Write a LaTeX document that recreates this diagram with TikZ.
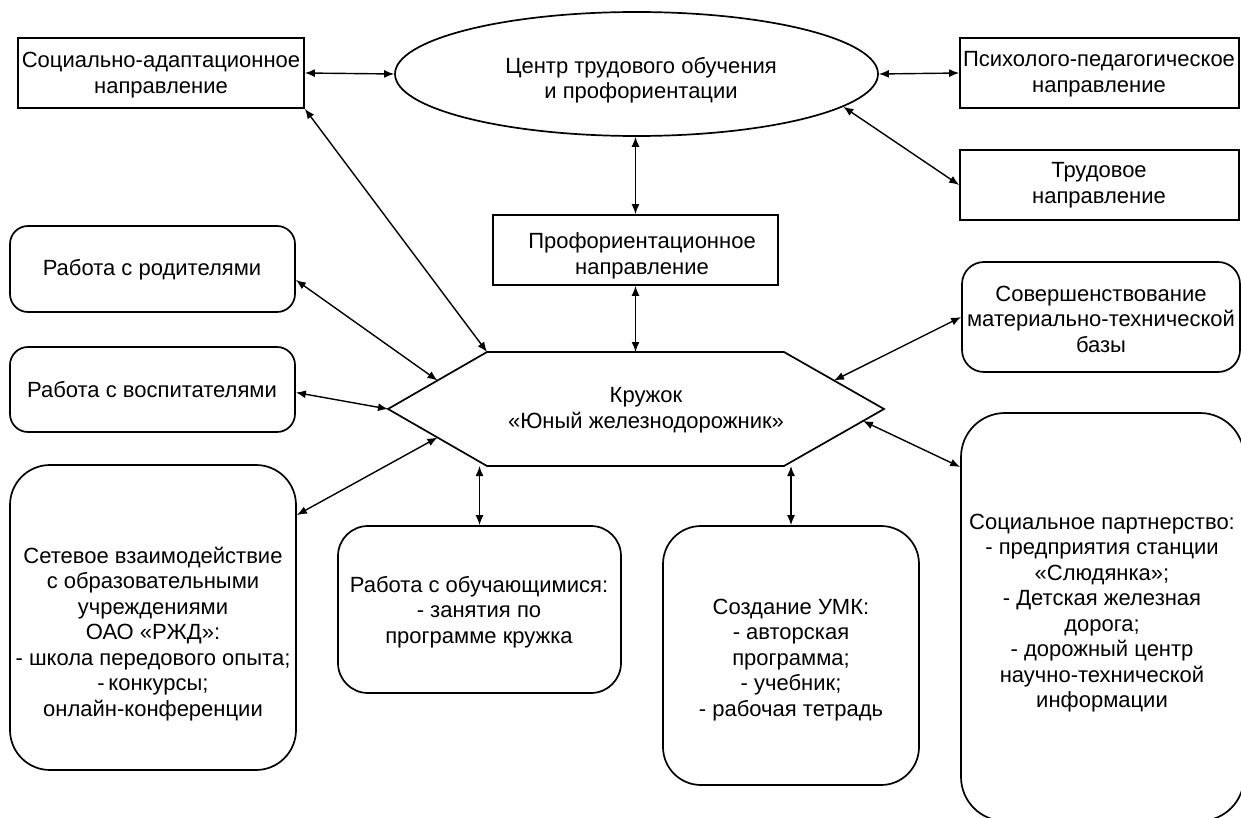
\documentclass[tikz,border=0pt]{standalone}
\usepackage{fontspec}
\setmainfont{Liberation Sans}
\usetikzlibrary{arrows.meta,shapes.geometric,calc}
\begin{document}
\begin{tikzpicture}[x=1pt,y=-1pt,
  txt/.style={font=\fontsize{22}{25.5}\selectfont, align=center, inner sep=0pt},
  rbox/.style={draw, line width=1.7pt, inner sep=0pt, rectangle},
  ebox/.style={draw, line width=1.7pt, inner sep=0pt, ellipse},
  conn/.style={line width=1.4pt, {Latex[length=10pt,width=8pt]}-{Latex[length=10pt,width=8pt]}}
]
\useasboundingbox (0,0) rectangle (1241,818);

% boxes
\node[rbox, minimum width=286pt, minimum height=70pt] (sa) at (161,73) {};
\node[ebox, minimum width=483pt, minimum height=124pt] (ell) at (636.5,74) {};
\node[rbox, minimum width=279pt, minimum height=70pt] (ps) at (1099.5,73) {};
\node[rbox, minimum width=279pt, minimum height=70pt] (tr) at (1099.5,185) {};
\node[rbox, minimum width=285pt, minimum height=70pt] (pf) at (635.5,250) {};
\node[rbox, rounded corners=18pt, minimum width=285pt, minimum height=86pt] (par) at (152.5,269) {};
\node[rbox, rounded corners=18pt, minimum width=285pt, minimum height=85pt] (vos) at (152.5,389.5) {};
\node[rbox, rounded corners=40pt, minimum width=286pt, minimum height=305pt] (net) at (153,617.5) {};
\node[rbox, rounded corners=30pt, minimum width=283pt, minimum height=167pt] (obu) at (479.5,609.5) {};
\node[rbox, rounded corners=38pt, minimum width=256pt, minimum height=259pt] (umk) at (791,655.5) {};
\node[rbox, rounded corners=22pt, minimum width=278pt, minimum height=110pt] (sov) at (1101,317) {};
\node[rbox, rounded corners=44pt, minimum width=283pt, minimum height=408pt] (spa) at (1102.5,617) {};

% hexagon
\coordinate (h1) at (388,409);
\coordinate (h2) at (487,352);
\coordinate (h3) at (784,352);
\coordinate (h4) at (884,409);
\coordinate (h5) at (784,466);
\coordinate (h6) at (487,466);
\draw[line width=1.7pt, line join=miter] (h1) -- (h2) -- (h3) -- (h4) -- (h5) -- (h6) -- cycle;

% texts
\node[txt] (sa-t) at (161,75) {Социально-адаптационное\\направление};
\node[txt] (ell-t) at (641,80) {Центр трудового обучения\\и профориентации};
\node[txt] (ps-t) at (1099,74) {Психолого-педагогическое\\направление};
\node[txt] (tr-t) at (1099,185) {Трудовое\\направление};
\node[txt] (pf-t) at (642,256) {Профориентационное\\направление};
\node[txt] (par-t) at (152,270) {Работа с родителями};
\node[txt] (vos-t) at (152,390) {Работа с воспитателями};
\node[txt] (hex-t) at (646,410) {Кружок\\«Юный железнодорожник»};
\node[txt] (sov-t) at (1101,319) {Совершенствование\\материально-технической\\базы};
\node[txt] (net-t) at (153,634) {Сетевое взаимодействие\\с образовательными\\учреждениями\\ОАО «РЖД»:\\- школа передового опыта;\\-\,конкурсы;\\онлайн-конференции};
\node[txt] (obu-t) at (479,612) {Работа с обучающимися:\\- занятия по\\программе кружка};
\node[txt] (umk-t) at (791,660) {Создание УМК:\\- авторская\\программа;\\- учебник;\\- рабочая тетрадь};
\node[txt] (spa-t) at (1102,613) {Социальное партнерство:\\- предприятия станции\\«Слюдянка»;\\- Детская железная\\дорога;\\- дорожный центр\\научно-технической\\информации};

% hexagon attachment points
\coordinate (hPAR) at ($(h1)!0.5!(h2)$);
\coordinate (hNET) at ($(h1)!0.5!(h6)$);
\coordinate (hSOV) at ($(h3)!0.5!(h4)$);
\coordinate (hSPA) at ($(h4)!0.21!(h5)$);

% connectors
\draw[conn] (sa.east) -- (ell.west);
\draw[conn] (ell.east) -- (ps.west);
\draw[conn] (ell.-9.3) -- (tr.west);
\draw[conn] (pf.north |- ell.south) -- (pf.north);
\draw[conn] (pf.south) -- (pf.south |- h2);
\draw[conn] (sa.south east) -- (h2);
\draw[conn] ([yshift=-11pt]par.east) -- (hPAR);
\draw[conn] ([yshift=-3pt]vos.east) -- (h1);
\draw[conn] ([yshift=102.5pt]net.east) -- (hNET);
\draw[conn] (obu.north |- h6) -- (obu.north);
\draw[conn] (umk.north |- h6) -- (umk.north);
\draw[conn] (sov.west) -- (hSOV);
\draw[conn] ([yshift=150pt]spa.west) -- (hSPA);
\end{tikzpicture}
\end{document}
